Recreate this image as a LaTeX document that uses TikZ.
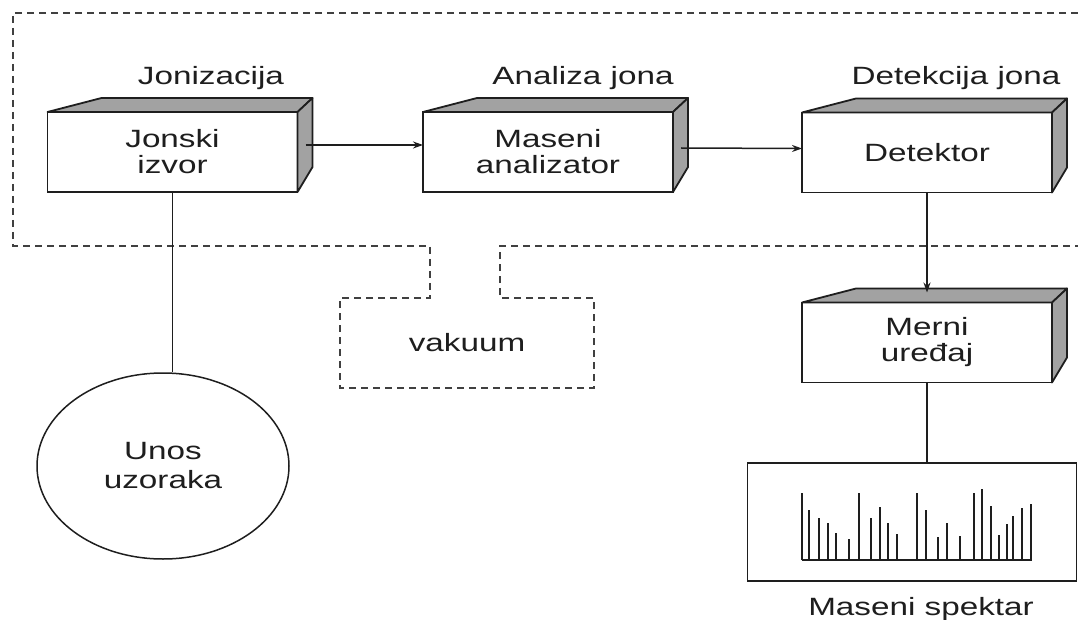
\documentclass[tikz,border=0pt]{standalone}
\usepackage{fontspec}
\setmainfont{Liberation Sans}[FakeStretch=1.33]
\usetikzlibrary{shapes.geometric,arrows.meta}
\definecolor{ink}{HTML}{1E1E1E}
\definecolor{facegray}{HTML}{A2A2A2}
\begin{document}
\begin{tikzpicture}[x=1pt,y=-1pt,
  txt/.style={text=ink,font=\fontsize{25}{26}\selectfont,align=center,inner sep=0pt},
  box3d/.style={draw=ink,line width=1.8pt,fill=white,minimum width=250pt,minimum height=80pt,outer sep=0pt,txt},
  face/.style={draw=ink,line width=1.8pt,fill=facegray,line join=round},
  conn/.style={draw=ink,line width=1.5pt},
  arr/.style={conn,-{Stealth[length=10pt,width=7pt]}},
  vac/.style={draw=ink!85,line width=1.8pt,dash pattern=on 7pt off 5pt},
  lbl/.style={txt,anchor=base},
  peak/.style={draw=ink,line width=2pt}]
\useasboundingbox (0,0) rectangle (1078,620);
\fill[white] (0,0) rectangle (1078,620);

% vacuum outline
\draw[vac] (1078,13) -- (13,13) -- (13,246) -- (430,246) -- (430,298) -- (340,298) -- (340,388)
  -- (594,388) -- (594,298) -- (500,298) -- (500,246) -- (1078,246);
\node[txt] (vak) at (467,343) {vakuum};

% boxes
\node[box3d] (ion) at (172.5,152) {Jonski\\izvor};
\node[box3d] (ana) at (548,152) {Maseni\\analizator};
\node[box3d] (det) at (927,152.5) {Detektor};
\node[box3d] (mer) at (927,342.5) {Merni\\uređaj};
\foreach \n in {ion,ana,det,mer}{
  \path[face] (\n.north west) -- ++(54,-14) -- ([xshift=15pt,yshift=14pt]\n.north east) -- (\n.north east) -- cycle;
  \path[face] (\n.north east) -- ([xshift=15pt,yshift=14pt]\n.north east) -- ([xshift=15pt,yshift=25pt]\n.south east) -- (\n.south east) -- cycle;
}

% stage labels
\node[lbl] (l1) at (211,85) {Jonizacija};
\node[lbl] (l2) at (583,85) {Analiza jona};
\node[lbl] (l3) at (956,85) {Detekcija jona};

% sample input
\node[draw=ink,line width=1.5pt,ellipse,minimum width=252pt,minimum height=186pt,inner sep=0pt,txt,
  font=\fontsize{25}{29}\selectfont] (smp) at (163,466) {Unos\\uzoraka};

% spectrum
\node[draw=ink,line width=1.8pt,minimum width=329pt,minimum height=118pt,outer sep=0pt] (spec) at (912,522) {};
\node[lbl] (ms) at (921,615) {Maseni spektar};

% connectors
\draw[arr] ([xshift=8pt,yshift=7pt]ion.east) -- ([yshift=7pt]ana.west);
\draw[arr] ([xshift=8pt,yshift=4pt]ana.east) -- ([yshift=4pt]det.west);
\draw[arr] (det.south) -- ([yshift=10pt]mer.north);
\draw[conn] (mer.south) -- (mer.south |- spec.north);
\draw[conn] (ion.south) -- (smp.north -| ion.south);

% spectrum peaks
\draw[peak] (802,560) -- (1032,560);
\foreach \px/\py in {802.3/493.3,809.3/510,819/518.3,828.3/522.7,835.7/532.7,849.3/539.3,859/493.3,870.7/518.3,880/507.3,887.7/523.3,897.3/534,916.7/493.3,926/510,938.3/537.3,947.3/523.3,960/536,974/493.3,981.7/489,990.7/505.7,999/535,1006.7/524,1013.3/516,1021.7/508.3,1030.7/504}{
  \draw[peak] (\px,560) -- (\px,\py);
}
\end{tikzpicture}
\end{document}
